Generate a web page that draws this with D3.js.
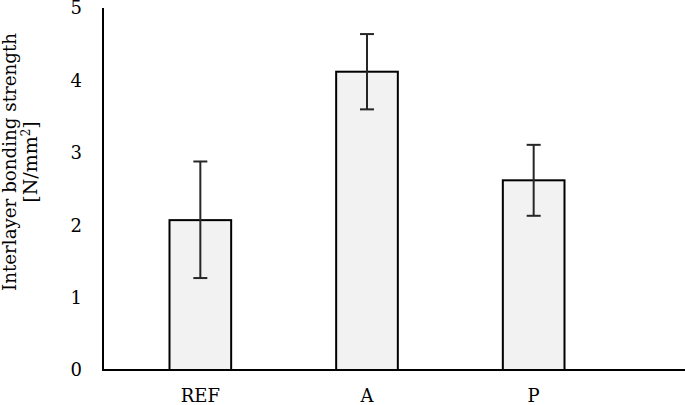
<!DOCTYPE html>
<html>
<head>
<meta charset="utf-8">
<script src="https://cdn.jsdelivr.net/npm/d3@7"></script>
<style>
  body { margin: 0; background: #fff; }
  svg { display: block; font-family: "DejaVu Serif", "Liberation Serif", serif; }
</style>
</head>
<body>
<svg width="685" height="405"></svg>
<script>
// chart data
var categories = ["REF", "A", "P"];
var means = [2.07, 4.12, 2.62];
var errLow = [1.27, 3.60, 2.13];
var errHigh = [2.88, 4.64, 3.11];
var yTicks = [0, 1, 2, 3, 4, 5];

var svg = d3.select("svg");

var y = d3.scaleLinear().domain([0, 5]).range([370, 8]);
var x = d3.scaleBand().domain(categories).range([117, 617]).paddingInner(0.63).paddingOuter(0.315);

var data = categories.map(function(c, i) {
  return {cat: c, v: means[i], lo: errLow[i], hi: errHigh[i]};
});

// bars
svg.selectAll("rect.bar").data(data).enter().append("rect")
  .attr("class", "bar")
  .attr("x", function(d) { return x(d.cat); })
  .attr("y", function(d) { return y(d.v); })
  .attr("width", x.bandwidth())
  .attr("height", function(d) { return y(0) - y(d.v); })
  .attr("fill", "#f2f2f2")
  .attr("stroke", "#000")
  .attr("stroke-width", 2);

// error bars
var eb = svg.selectAll("g.err").data(data).enter().append("g")
  .attr("class", "err")
  .attr("stroke", "#262626")
  .attr("stroke-width", 2);
eb.append("line")
  .attr("x1", function(d) { return x(d.cat) + x.bandwidth() / 2; })
  .attr("x2", function(d) { return x(d.cat) + x.bandwidth() / 2; })
  .attr("y1", function(d) { return y(d.hi); })
  .attr("y2", function(d) { return y(d.lo); });
eb.append("line")
  .attr("x1", function(d) { return x(d.cat) + x.bandwidth() / 2 - 7; })
  .attr("x2", function(d) { return x(d.cat) + x.bandwidth() / 2 + 7; })
  .attr("y1", function(d) { return y(d.hi); })
  .attr("y2", function(d) { return y(d.hi); });
eb.append("line")
  .attr("x1", function(d) { return x(d.cat) + x.bandwidth() / 2 - 7; })
  .attr("x2", function(d) { return x(d.cat) + x.bandwidth() / 2 + 7; })
  .attr("y1", function(d) { return y(d.lo); })
  .attr("y2", function(d) { return y(d.lo); });

// axes lines
svg.append("line").attr("x1", 103).attr("x2", 103).attr("y1", y(5)).attr("y2", y(0))
  .attr("stroke", "#000").attr("stroke-width", 2);
svg.append("line").attr("x1", 102).attr("x2", 685).attr("y1", y(0)).attr("y2", y(0))
  .attr("stroke", "#000").attr("stroke-width", 2);

// y tick labels
svg.selectAll("text.yt").data(yTicks).enter().append("text")
  .attr("class", "yt")
  .attr("x", 82)
  .attr("y", function(d) { return y(d); })
  .attr("dy", "0.36em")
  .attr("text-anchor", "end")
  .attr("font-size", 18)
  .attr("fill", "#000")
  .text(function(d) { return d; });

// x labels
svg.selectAll("text.xt").data(categories).enter().append("text")
  .attr("class", "xt")
  .attr("x", function(d) { return x(d) + x.bandwidth() / 2; })
  .attr("y", 402)
  .attr("text-anchor", "middle")
  .attr("font-size", 18)
  .attr("fill", "#000")
  .text(function(d) { return d; });

// y axis title
svg.append("text")
  .attr("transform", "translate(16,162) rotate(-90)")
  .attr("text-anchor", "middle")
  .attr("font-size", 18)
  .attr("fill", "#000")
  .attr("textLength", 258)
  .attr("lengthAdjust", "spacingAndGlyphs")
  .text("Interlayer bonding strength");
var t2 = svg.append("text")
  .attr("transform", "translate(37,162) rotate(-90)")
  .attr("text-anchor", "middle")
  .attr("font-size", 19)
  .attr("fill", "#000");
t2.append("tspan").text("[N/mm");
t2.append("tspan").attr("baseline-shift", "super").attr("font-size", 12).text("2");
t2.append("tspan").text("]");
</script>
</body>
</html>
